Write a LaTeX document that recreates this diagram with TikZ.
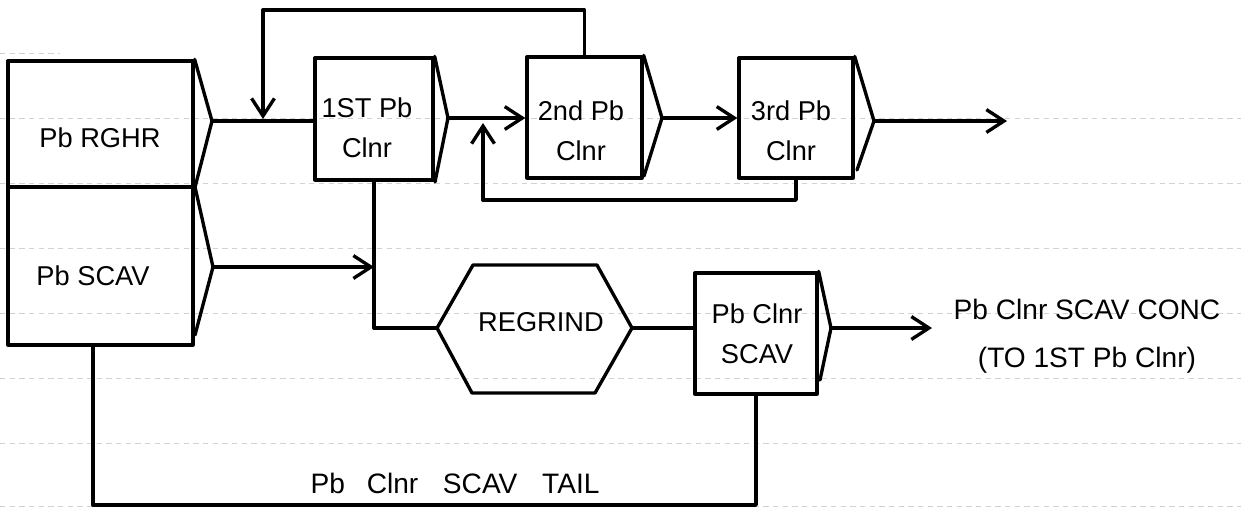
\documentclass[tikz,border=0pt]{standalone}
\usepackage{fontspec}
\setmainfont{Liberation Sans}
\usetikzlibrary{arrows.meta}
\begin{document}
\begin{tikzpicture}[x=0.02cm,y=-0.02cm,
  ink/.style={line width=1.9pt, line join=round, line cap=round},
  box/.style={draw, ink, rectangle, inner sep=0pt},
  arr/.style={ink, -{Straight Barb[length=10pt,width=13pt,line width=1.9pt]}},
  txt/.style={font=\fontsize{15.5}{23}\selectfont, align=center, inner sep=0pt},
  rule/.style={gray!35, line width=0.5pt, dash pattern=on 3pt off 2.5pt}
]
\useasboundingbox (0,0) rectangle (1241,508);
% ruled paper
\foreach \yy in {118,183,248,313,378,443,506}
  \draw[rule] (0,\yy) -- (1241,\yy);
\draw[rule] (0,53) -- (60,53);

% --- units ---
\node[box, minimum width=3.7cm, minimum height=2.52cm] (rghr) at (100.5,124) {};
\node[box, minimum width=3.7cm, minimum height=3.16cm] (scav) at (100.5,266) {};
\node[box, minimum width=2.36cm, minimum height=2.44cm] (c1) at (374,119) {};
\node[box, minimum width=2.30cm, minimum height=2.42cm] (c2) at (584.5,117.5) {};
\node[box, minimum width=2.28cm, minimum height=2.40cm] (c3) at (796,118) {};
\node[box, minimum width=2.44cm, minimum height=2.42cm] (cs) at (756,333.5) {};

% cell launder triangles
\coordinate (rghrT) at (212,121);
\coordinate (scavT) at (213,267);
\coordinate (c1T) at (448,118);
\coordinate (c2T) at (662,118);
\coordinate (c3T) at (874,121);
\coordinate (csT) at (831,328);
\draw[ink] (rghr.north east) -- (rghrT) -- (rghr.south east);
\draw[ink] (scav.north east) -- (scavT) -- (195,335);
\draw[ink] (c1.north east) -- (c1T) -- (435,182);
\draw[ink] (c2.north east) -- (c2T) -- (644,176);
\draw[ink] (c3.north east) -- (c3T) -- (857,170);
\draw[ink] (cs.north east) -- (csT) -- (820,380);

% regrind hexagon
\coordinate (hexL) at (437,328);
\coordinate (hexR) at (632,328);
\draw[ink] (hexL) -- (473,265) -- (597,265) -- (hexR) -- (595,393) -- (472,393) -- cycle;

% --- texts ---
\node[txt] (trghr) at (100,138) {Pb RGHR};
\node[txt] (tscav) at (93,276) {Pb SCAV};
\node[txt] (tc1) at (367,128) {1ST Pb\\Clnr};
\node[txt] (tc2) at (581,131) {2nd Pb\\Clnr};
\node[txt] (tc3) at (791,131) {3rd Pb\\Clnr};
\node[txt] (regrind) at (541,322) {REGRIND};
\node[txt] (tcs) at (757,334) {Pb Clnr\\SCAV};
\node[txt, font=\fontsize{16}{27}\selectfont] (tconc) at (1087,336) {Pb Clnr SCAV CONC\\(TO 1ST Pb Clnr)};
\node[txt, font=\fontsize{16}{20}\selectfont] (ttail) at (455,483) {Pb\hspace{0.5em} Clnr\hspace{0.6em} SCAV\hspace{0.6em} TAIL};

% --- connectors ---
\coordinate (j1) at (263,119);
\coordinate (fb1) at (263,10);
\coordinate (j2) at (483,123);
\coordinate (fb2) at (483,200);
\coordinate (out3) at (1007,121);
\coordinate (concEnd) at (932,328);
\coordinate (tailL) at (93,505);

\draw[ink] (rghrT) -- (rghrT -| c1.west);
\draw[arr] (c2.north) |- (fb1) -- (j1);
\draw[arr] (c1T) -- (c1T -| c2.west);
\draw[arr] (c2T) -- (c2T -| c3.west);
\draw[arr] (c3T) -- (out3);
\draw[arr] (c3.south) |- (fb2) -- (j2);
\draw[ink] (c1.south) |- (hexL);
\draw[arr] (scavT) -- (scavT -| c1.south);
\draw[ink] (hexR) -- (hexR -| cs.west);
\draw[arr] (csT) -- (concEnd);
\draw[ink] (cs.south) |- (tailL) -- (tailL |- scav.south);
\end{tikzpicture}
\end{document}
